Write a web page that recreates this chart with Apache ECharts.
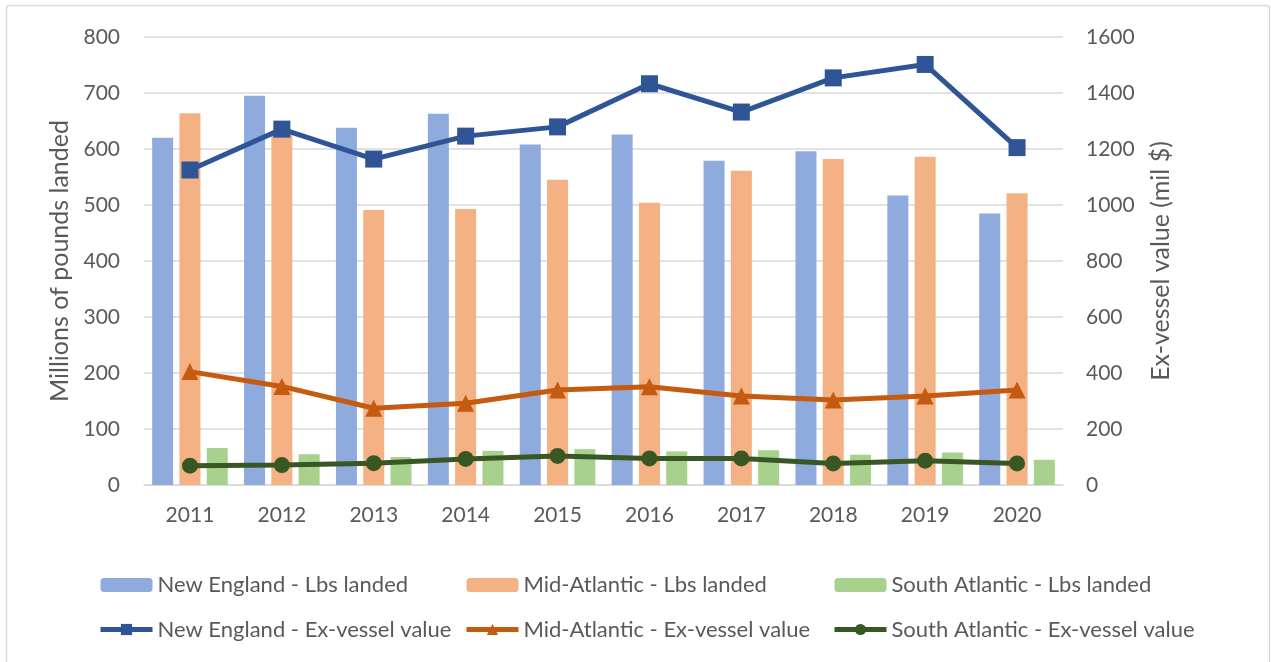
<!DOCTYPE html>
<html>
<head>
<meta charset="utf-8">
<script src="https://cdn.jsdelivr.net/npm/echarts@6/dist/echarts.min.js"></script>
<style>
html,body{margin:0;padding:0;background:#fff;}
#chart{width:1271px;height:662px;}
</style>
</head>
<body>
<div id="chart"></div>
<script>
const years = ['2011','2012','2013','2014','2015','2016','2017','2018','2019','2020'];
const neLbs = [620, 695, 638, 663, 608, 626, 579, 596, 517, 485];
const maLbs = [664, 626, 491, 493, 545, 504, 561, 582, 586, 521];
const saLbs = [66, 55, 50, 61, 64, 60, 62, 54, 58, 45];
const neValue = [1125, 1271, 1164, 1246, 1279, 1433, 1332, 1454, 1502, 1205];
const maValue = [405, 352, 274, 292, 339, 351, 318, 304, 318, 339];
const saValue = [69, 71, 78, 93, 104, 95, 95, 77, 87, 77];
const leftTicks = {min: 0, max: 800, interval: 100};
const rightTicks = {min: 0, max: 1600, interval: 200};

const names = {
  neL: 'New England - Lbs landed',
  maL: 'Mid-Atlantic - Lbs landed',
  saL: 'South Atlantic - Lbs landed',
  neV: 'New England - Ex-vessel value',
  maV: 'Mid-Atlantic - Ex-vessel value',
  saV: 'South Atlantic - Ex-vessel value'
};
const FONT = 'Lato';
const TXT = '#595959';
const FS = 22;
const TFS = 21;
const NFS = 25;

const chart = echarts.init(document.getElementById('chart'), null, {renderer: 'canvas'});
const barCommon = {type: 'bar', yAxisIndex: 0, barWidth: 21, barGap: '30%'};
const lineCommon = {type: 'line', yAxisIndex: 1, z: 5};
const legendCommon = {
  orient: 'vertical', top: 574, padding: 0, itemGap: 22.5, itemWidth: 52, itemHeight: 14,
  lineStyle: {width: 5},
  textStyle: {fontFamily: FONT, fontSize: FS, color: TXT}
};
chart.setOption({
  animation: false,
  textStyle: {fontFamily: FONT},
  graphic: [{type: 'rect', shape: {x: 6.5, y: 5.5, width: 1263, height: 680, r: 3},
    style: {fill: 'none', stroke: '#D9D9D9', lineWidth: 1.5}, silent: true}],
  grid: {left: 144, right: 208, top: 37, bottom: 177},
  legend: [
    Object.assign({left: 98, data: [names.neL, names.neV]}, legendCommon),
    Object.assign({left: 464, data: [names.maL, names.maV]}, legendCommon),
    Object.assign({left: 832, data: [names.saL, names.saV]}, legendCommon)
  ],
  xAxis: {
    type: 'category', data: years,
    axisLine: {lineStyle: {color: '#D9D9D9', width: 1.5}},
    axisTick: {show: false},
    axisLabel: {fontFamily: FONT, fontSize: TFS, color: TXT, margin: 20}
  },
  yAxis: [
    {
      type: 'value', min: leftTicks.min, max: leftTicks.max, interval: leftTicks.interval,
      name: 'Millions of pounds landed', nameLocation: 'middle', nameRotate: 90, nameGap: 70,
      nameTextStyle: {fontFamily: FONT, fontSize: NFS, color: TXT},
      axisLine: {show: false}, axisTick: {show: false},
      axisLabel: {fontFamily: FONT, fontSize: TFS, color: TXT, margin: 24},
      splitLine: {lineStyle: {color: '#D9D9D9', width: 1.5}}
    },
    {
      type: 'value', min: rightTicks.min, max: rightTicks.max, interval: rightTicks.interval,
      name: 'Ex-vessel value (mil $)', nameLocation: 'middle', nameRotate: 90, nameGap: 85,
      nameTextStyle: {fontFamily: FONT, fontSize: NFS, color: TXT},
      axisLine: {show: false}, axisTick: {show: false},
      axisLabel: {fontFamily: FONT, fontSize: TFS, color: TXT, margin: 23,
        formatter: function (v) { return String(v); }},
      splitLine: {show: false}
    }
  ],
  series: [
    Object.assign({name: names.neL, data: neLbs, itemStyle: {color: '#8FAADC'}}, barCommon),
    Object.assign({name: names.maL, data: maLbs, itemStyle: {color: '#F4B183'}}, barCommon),
    Object.assign({name: names.saL, data: saLbs, itemStyle: {color: '#A9D18E'}}, barCommon),
    Object.assign({name: names.neV, data: neValue, symbol: 'rect', symbolSize: 17,
      itemStyle: {color: '#2F5597'}, lineStyle: {width: 5, color: '#2F5597'}}, lineCommon),
    Object.assign({name: names.maV, data: maValue, symbol: 'triangle', symbolSize: 17,
      itemStyle: {color: '#C55A11'}, lineStyle: {width: 5, color: '#C55A11'}}, lineCommon),
    Object.assign({name: names.saV, data: saValue, symbol: 'circle', symbolSize: 16,
      itemStyle: {color: '#385723'}, lineStyle: {width: 5, color: '#385723'}}, lineCommon)
  ]
});
</script>
</body>
</html>
